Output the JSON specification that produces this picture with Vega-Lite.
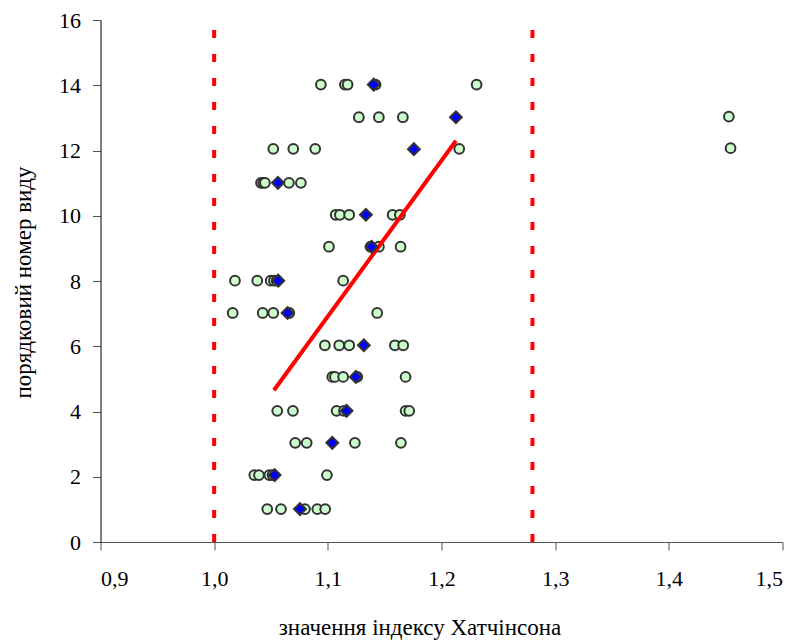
{
  "$schema": "https://vega.github.io/schema/vega-lite/v6.json",
  "width": 682,
  "height": 522,
  "autosize": {"type": "none"},
  "padding": {"left": 100.5, "top": 20, "right": 17.5, "bottom": 99},
  "background": "white",
  "config": {"view": {"stroke": null}, "font": "Liberation Serif"},
  "datasets": {
    "bounds": [{"x": 1.0, "y0": 0, "y1": 16}, {"x": 1.28, "y0": 0, "y1": 16}],
    "circles": [
      {"x": 1.0939, "y": 14.02}, {"x": 1.115, "y": 14.02}, {"x": 1.1174, "y": 14.02}, {"x": 1.142, "y": 14.02}, {"x": 1.2309, "y": 14.02},
      {"x": 1.1273, "y": 13.02}, {"x": 1.1449, "y": 13.02}, {"x": 1.166, "y": 13.02}, {"x": 1.4528, "y": 13.04},
      {"x": 1.052, "y": 12.05}, {"x": 1.0696, "y": 12.05}, {"x": 1.0889, "y": 12.05}, {"x": 1.2156, "y": 12.05}, {"x": 1.4543, "y": 12.07},
      {"x": 1.0412, "y": 11.01}, {"x": 1.0432, "y": 11.01}, {"x": 1.0447, "y": 11.01}, {"x": 1.0658, "y": 11.01}, {"x": 1.0763, "y": 11.01},
      {"x": 1.1069, "y": 10.03}, {"x": 1.1106, "y": 10.03}, {"x": 1.1188, "y": 10.03}, {"x": 1.157, "y": 10.03}, {"x": 1.1634, "y": 10.03},
      {"x": 1.101, "y": 9.05}, {"x": 1.1376, "y": 9.05}, {"x": 1.1449, "y": 9.05}, {"x": 1.164, "y": 9.05},
      {"x": 1.0183, "y": 8.01}, {"x": 1.0379, "y": 8.01}, {"x": 1.0497, "y": 8.01}, {"x": 1.0526, "y": 8.01}, {"x": 1.055, "y": 8.01}, {"x": 1.1135, "y": 8.01},
      {"x": 1.0163, "y": 7.02}, {"x": 1.0427, "y": 7.02}, {"x": 1.052, "y": 7.02}, {"x": 1.0661, "y": 7.02}, {"x": 1.1434, "y": 7.02},
      {"x": 1.0974, "y": 6.03}, {"x": 1.11, "y": 6.03}, {"x": 1.1188, "y": 6.03}, {"x": 1.159, "y": 6.03}, {"x": 1.1663, "y": 6.03},
      {"x": 1.1039, "y": 5.06}, {"x": 1.1062, "y": 5.06}, {"x": 1.1135, "y": 5.06}, {"x": 1.1259, "y": 5.06}, {"x": 1.1684, "y": 5.06},
      {"x": 1.0555, "y": 4.02}, {"x": 1.0693, "y": 4.02}, {"x": 1.1077, "y": 4.02}, {"x": 1.1142, "y": 4.02}, {"x": 1.1684, "y": 4.02}, {"x": 1.1716, "y": 4.02},
      {"x": 1.0713, "y": 3.04}, {"x": 1.0814, "y": 3.04}, {"x": 1.1238, "y": 3.04}, {"x": 1.1643, "y": 3.04},
      {"x": 1.0353, "y": 2.05}, {"x": 1.0394, "y": 2.05}, {"x": 1.0485, "y": 2.05}, {"x": 1.0514, "y": 2.05}, {"x": 1.0992, "y": 2.05},
      {"x": 1.0467, "y": 1.01}, {"x": 1.0588, "y": 1.01}, {"x": 1.0799, "y": 1.01}, {"x": 1.0907, "y": 1.01}, {"x": 1.0977, "y": 1.01}
    ],
    "means": [
      {"x": 1.1403, "y": 14.02}, {"x": 1.2127, "y": 13.02}, {"x": 1.1757, "y": 12.04}, {"x": 1.0561, "y": 11.01},
      {"x": 1.1335, "y": 10.03}, {"x": 1.1385, "y": 9.05}, {"x": 1.0564, "y": 8.01}, {"x": 1.0646, "y": 7.02},
      {"x": 1.1317, "y": 6.03}, {"x": 1.1247, "y": 5.06}, {"x": 1.1165, "y": 4.02}, {"x": 1.1039, "y": 3.04},
      {"x": 1.0532, "y": 2.05}, {"x": 1.0755, "y": 1.01}
    ],
    "fit": [{"x": 1.0526, "y": 4.65}, {"x": 1.2127, "y": 12.3}]
  },
  "encoding": {
    "x": {
      "field": "x", "type": "quantitative",
      "scale": {"domain": [0.9, 1.5], "nice": false, "zero": false},
      "axis": {
        "values": [0.9, 1.0, 1.1, 1.2, 1.3, 1.4, 1.5],
        "labelExpr": "replace(format(datum.value, '.1f'), '.', ',')",
        "labelFont": "Liberation Serif", "labelFontSize": 22, "labelColor": "#000",
        "labelBaseline": "alphabetic", "labelPadding": 35,
        "tickSize": 8, "tickColor": "#555", "domainColor": "#555", "grid": false,
        "title": "значення індексу Хатчінсона",
        "titleFont": "Liberation Serif", "titleFontSize": 23, "titleFontWeight": "normal", "titleColor": "#000",
        "titleX": 319, "titleY": 92, "titleBaseline": "alphabetic", "titleAlign": "center"
      }
    },
    "y": {
      "field": "y", "type": "quantitative",
      "scale": {"domain": [0, 16], "nice": false},
      "axis": {
        "values": [0, 2, 4, 6, 8, 10, 12, 14, 16],
        "labelFont": "Liberation Serif", "labelFontSize": 22, "labelColor": "#000",
        "labelPadding": 12,
        "tickSize": 8, "tickColor": "#555", "domainColor": "#000", "grid": false,
        "title": "порядковий номер виду",
        "titleFont": "Liberation Serif", "titleFontSize": 23, "titleFontWeight": "normal", "titleColor": "#000",
        "titleAngle": -90, "titleX": -77, "titleY": 262, "titleAlign": "center", "titleBaseline": "middle"
      }
    }
  },
  "layer": [
    {
      "data": {"name": "bounds"},
      "mark": {"type": "rule", "color": "#ff0000", "strokeWidth": 4, "strokeDash": [8, 16]},
      "encoding": {
        "y": {"field": "y0", "type": "quantitative"},
        "y2": {"field": "y1"}
      }
    },
    {
      "data": {"name": "circles"},
      "mark": {"type": "point", "shape": "circle", "filled": true, "fill": "#ccffcc", "stroke": "#333333", "strokeWidth": 2, "size": 95, "opacity": 1}
    },
    {
      "data": {"name": "fit"},
      "mark": {"type": "line", "color": "#ff0000", "strokeWidth": 4}
    },
    {
      "data": {"name": "means"},
      "mark": {"type": "point", "shape": "diamond", "filled": true, "fill": "#0000ff", "stroke": "#333333", "strokeWidth": 2, "size": 140, "opacity": 1}
    }
  ]
}
